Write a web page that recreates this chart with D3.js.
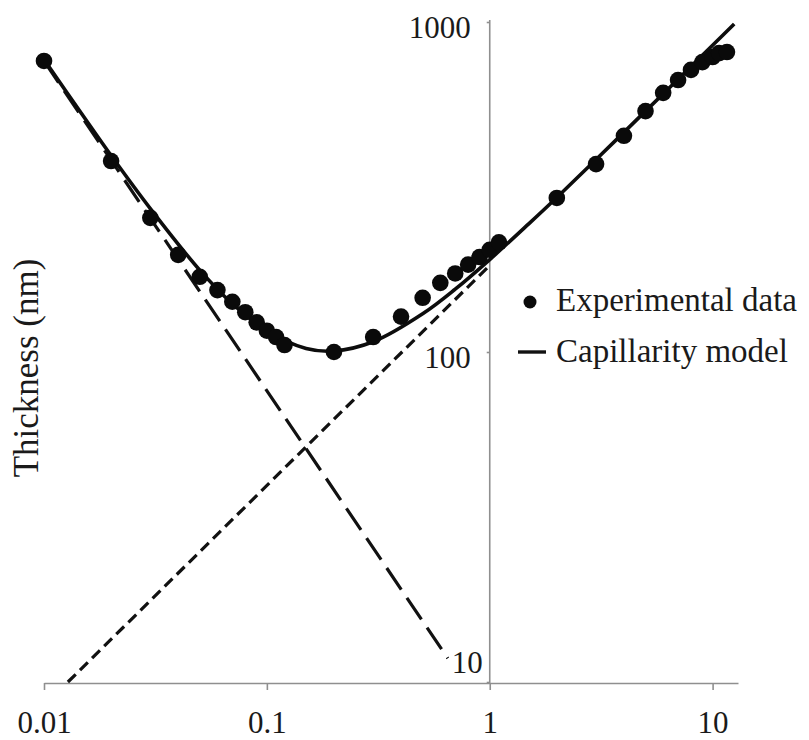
<!DOCTYPE html>
<html>
<head>
<meta charset="utf-8">
<script src="https://cdn.jsdelivr.net/npm/d3@7/dist/d3.min.js"></script>
<style>
  html, body { margin: 0; padding: 0; background: #ffffff; }
  svg { display: block; }
  svg text { font-family: "Liberation Serif", "Times New Roman", Times, "DejaVu Serif", serif !important; fill: #1a1a1a; }
</style>
</head>
<body>
<div id="chart"></div>
<script>
// Measured film thickness (nm) against withdrawal speed
const speeds = [0.01, 0.02, 0.03, 0.04, 0.05, 0.06, 0.07, 0.08, 0.09, 0.1, 0.11, 0.12,
                0.2, 0.3, 0.4, 0.5, 0.6, 0.7, 0.8, 0.9, 1.0, 1.1,
                2, 3, 4, 5, 6, 7, 8, 9, 10, 10.7, 11.6];
const thickness = [762, 379, 255, 197, 169, 154, 142, 132, 123, 116, 111, 105,
                   100, 111, 128, 146, 162, 173, 184, 194, 204, 215,
                   293, 371, 452, 537, 610, 667, 716, 756, 783, 805, 811];

// Capillarity model curve
const modelX = [0.01, 0.015, 0.02, 0.03, 0.05, 0.07, 0.1, 0.15, 0.2, 0.3, 0.5, 0.7, 1, 1.5, 2, 3, 5, 7, 10, 12.5];
const modelY = [770, 519, 394, 272, 177, 140, 116, 102.5, 100.7, 107.4, 130.5, 155, 190.6, 245, 294, 383, 537, 671, 850, 986];

// Capillary (low speed) regime asymptote
const capillaryX = [0.01, 0.648];
const capillaryY = [762, 11.8];

// Draining (high speed) regime asymptote
const drainingX = [0.0128, 1.0];
const drainingY = [10, 183];

const xTicks = [0.01, 0.1, 1, 10];
const yTicks = [10, 100, 1000];
const yTitle = "Thickness (nm)";
const legendLabels = ["Experimental data", "Capillarity model"];

const W = 809, H = 740;
const svg = d3.select("#chart").append("svg").attr("width", W).attr("height", H);

const x = d3.scaleLog().domain([0.01, 13]).range([44, 738]);
const y = d3.scaleLog().domain([10, 1000]).range([682, 22]);

const axisColor = "#8f8f8f";
const xAxisY = y(10) + 1;
const yAxisX = x(1);

// Horizontal axis
const gx = svg.append("g")
  .attr("transform", `translate(0,${xAxisY})`)
  .call(d3.axisBottom(x).tickValues(xTicks).tickSize(7).tickSizeOuter(0)
        .tickFormat(d3.format("~g")));
gx.attr("font-family", null);
gx.select(".domain").attr("stroke", axisColor).attr("stroke-width", 1.6);
gx.selectAll(".tick line").attr("stroke", axisColor).attr("stroke-width", 1.6);
gx.selectAll(".tick text")
  .attr("y", 50).attr("dy", 0)
  .style("font-size", "31px");

// Vertical axis crossing at x = 1
const gy = svg.append("g")
  .attr("transform", `translate(${yAxisX},0)`)
  .call(d3.axisLeft(y).tickValues(yTicks).tickSize(3).tickSizeOuter(0)
        .tickFormat(d3.format("~g")));
gy.attr("font-family", null);
gy.select(".domain").attr("stroke", axisColor).attr("stroke-width", 1.6)
  .attr("d", `M0,${y(1000) - 2}V${xAxisY}`);
gy.selectAll(".tick line").attr("stroke", axisColor).attr("stroke-width", 1.6);
gy.selectAll(".tick text")
  .attr("x", -19).attr("dy", "0.5em")
  .style("font-size", "31px");
// the lowest label sits above the horizontal axis
gy.selectAll(".tick text").filter(d => d === 10)
  .attr("x", -7).attr("dy", "-0.3em");

// Axis title
svg.append("text")
  .attr("transform", `translate(38,${368}) rotate(-90)`)
  .attr("text-anchor", "middle")
  .style("font-size", "35px")
  .text(yTitle);

const line = d3.line().x(d => x(d[0])).y(d => y(d[1]));

// Asymptotes
svg.append("path")
  .datum(capillaryX.map((v, i) => [v, capillaryY[i]]))
  .attr("d", line)
  .attr("fill", "none").attr("stroke", "#111").attr("stroke-width", 3.2)
  .attr("stroke-dasharray", "26,10");

svg.append("path")
  .datum(drainingX.map((v, i) => [v, drainingY[i]]))
  .attr("d", line)
  .attr("fill", "none").attr("stroke", "#111").attr("stroke-width", 3.2)
  .attr("stroke-dasharray", "11,6");

// Model curve
svg.append("path")
  .datum(modelX.map((v, i) => [v, modelY[i]]))
  .attr("d", line.curve(d3.curveCatmullRom))
  .attr("fill", "none").attr("stroke", "#0d0d0d").attr("stroke-width", 3.6);

// Experimental points
svg.append("g").selectAll("circle")
  .data(speeds.map((v, i) => [v, thickness[i]]))
  .join("circle")
  .attr("cx", d => x(d[0])).attr("cy", d => y(d[1]))
  .attr("r", 8.3).attr("fill", "#0a0a0a");

// Legend
const lg = svg.append("g");
lg.append("circle").attr("cx", 530).attr("cy", 302).attr("r", 6.5).attr("fill", "#0a0a0a");
lg.append("text").attr("x", 556).attr("y", 311).style("font-size", "33px").text(legendLabels[0]);
lg.append("line").attr("x1", 518).attr("x2", 546).attr("y1", 352).attr("y2", 352)
  .attr("stroke", "#111").attr("stroke-width", 3.4);
lg.append("text").attr("x", 556).attr("y", 362).style("font-size", "33px").text(legendLabels[1]);
</script>
</body>
</html>
